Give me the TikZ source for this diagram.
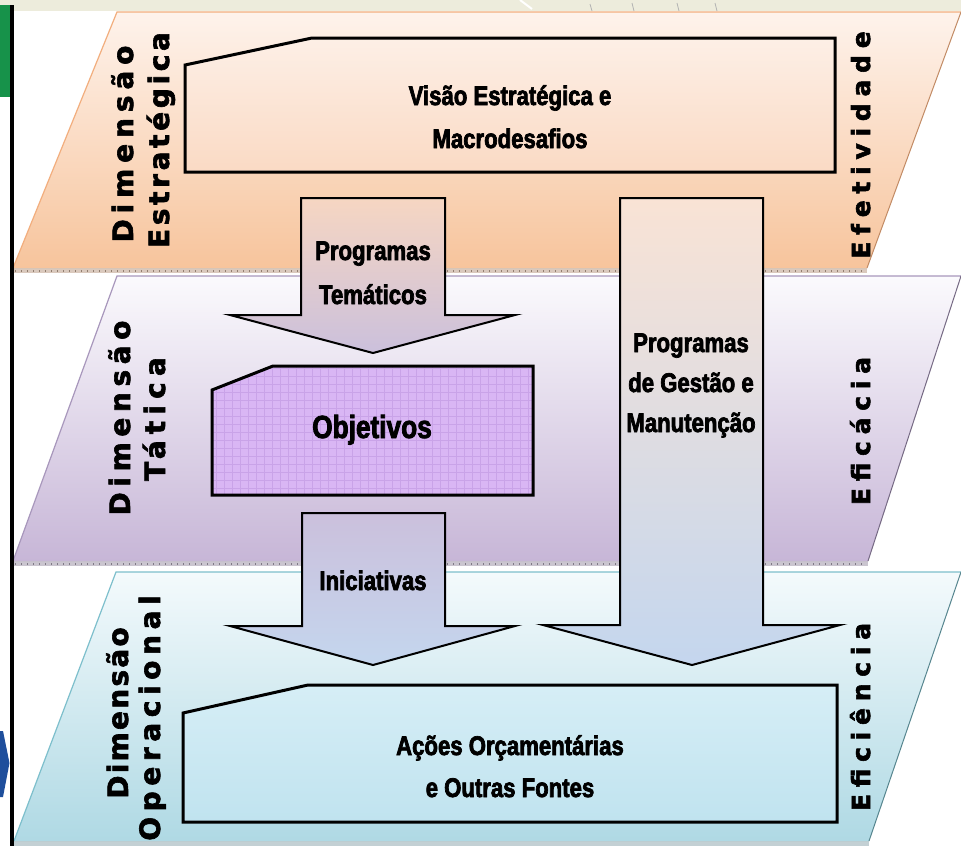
\documentclass[tikz,border=0pt]{standalone}
\usepackage{fontspec}
\newfontfamily\boxfont{Liberation Sans}[FakeStretch=0.82, BoldFont={Liberation Sans Bold}, BoldFeatures={FakeBold=2.6}]
\newfontfamily\labfont{DejaVu Sans}[BoldFont={DejaVu Sans Bold}, BoldFeatures={FakeBold=2.2}]
\definecolor{beige}{HTML}{EDECDC}
\definecolor{sidegreen}{HTML}{17924A}
\definecolor{chevblue}{HTML}{1F4F9C}
\definecolor{lAtop}{HTML}{FEF3EC}
\definecolor{lAbot}{HTML}{F7C49C}
\definecolor{lAedge}{HTML}{F2AE7E}
\definecolor{lBtop}{HTML}{FBFAFD}
\definecolor{lBbot}{HTML}{C7B6D7}
\definecolor{lBedge}{HTML}{A897BC}
\definecolor{lCtop}{HTML}{F4FAFC}
\definecolor{lCbot}{HTML}{AFD9E4}
\definecolor{lCedge}{HTML}{7DBFCC}
\definecolor{visA}{HTML}{FDEFE6}
\definecolor{visB}{HTML}{FADAC4}
\definecolor{objfill}{HTML}{D9B6F4}
\definecolor{objgrid}{HTML}{C9A3E8}
\definecolor{acoA}{HTML}{D6EEF6}
\definecolor{acoB}{HTML}{C0E3EF}
\definecolor{arPeach}{HTML}{F6D6C2}
\definecolor{arLav}{HTML}{CBC0DC}
\definecolor{arBlue}{HTML}{C4D6EE}
\definecolor{arPeachL}{HTML}{F9E3D5}
\begin{document}
\begin{tikzpicture}[x=1pt,y=-1pt,
  boxtxt/.style={font=\boxfont\bfseries\fontsize{27}{27}\selectfont, inner sep=0pt, anchor=base},
  labtxt/.style={font=\labfont\bfseries\fontsize{28}{28}\selectfont, inner sep=0pt, anchor=base, rotate=90},
  rlabtxt/.style={font=\labfont\bfseries\fontsize{25}{25}\selectfont, inner sep=0pt, anchor=base, rotate=90},
  chambox/.style={draw=black, line width=3pt, line join=miter},
  blockarrow/.style={draw=black, line width=2pt, line join=miter}]
\useasboundingbox (0,0) rectangle (961,846);
\fill[white] (0,0) rectangle (961,846);
% top strip
\fill[beige] (0,0) rectangle (961,11);
\draw[white, line width=2pt] (520,0) -- (532,9);
\draw[gray!60, line width=0.8pt] (590,4)--(592,11) (632,3)--(634,11) (677,3)--(679,11) (715,3)--(717,11);

% ---------- layer 1 (strategic)
\path[top color=lAtop, bottom color=lAbot] (117,12)--(961,12)--(867,268)--(13,268)--cycle;
\draw[lAedge, line width=1.2pt] (13,268)--(117,12)--(961,12);
\draw[lAedge!80!black, line width=1pt] (961,12)--(867,268);
\fill[lAbot!70!black, opacity=.45] (13,268) rectangle (867,273);
\draw[lAbot!40!black, line width=2pt, dash pattern=on 1pt off 5pt, opacity=.6] (15,270.5)--(865,270.5);

% ---------- layer 2 (tactical)
\path[top color=lBtop, bottom color=lBbot] (117,276)--(961,276)--(868,561)--(13,561)--cycle;
\draw[lBedge, line width=1.2pt] (13,561)--(117,276)--(961,276);
\draw[lBedge!70!black, line width=1pt] (961,276)--(868,561);
\fill[lBbot!70!black, opacity=.45] (13,561) rectangle (868,566);
\draw[lBbot!40!black, line width=2pt, dash pattern=on 1pt off 5pt, opacity=.6] (15,563.5)--(866,563.5);

% ---------- layer 3 (operational)
\path[top color=lCtop, bottom color=lCbot] (116,572)--(961,572)--(869,841)--(14,841)--cycle;
\draw[lCedge, line width=1.2pt] (14,841)--(116,572)--(961,572);
\draw[lCedge!70!black, line width=1pt] (961,572)--(869,841);
\fill[lCbot!70!black, opacity=.45] (14,841) rectangle (869,846);

% left frame pieces
\fill[sidegreen] (0,5) rectangle (9.5,97);
\fill[black] (9.5,5) rectangle (13.5,846);
\fill[chevblue] (0,731) -- (3,731) -- (9.5,763) -- (3,797) -- (0,797) -- cycle;

% ---------- boxes
\path[chambox, top color=visA, bottom color=visB] (185,65)--(312,38)--(835,38)--(835,172)--(185,172)--cycle;
\node[boxtxt] (vis1) at (510,105) {Visão Estratégica e};
\node[boxtxt] (vis2) at (510,148) {Macrodesafios};

\fill[objfill] (212,390)--(273,366)--(533,366)--(533,495)--(212,495)--cycle;
\begin{scope}
\clip (212,390)--(273,366)--(533,366)--(533,495)--(212,495)--cycle;
\draw[objgrid, line width=0.5pt, step=8pt] (200,360) grid (540,500);
\end{scope}
\draw[chambox] (212,390)--(273,366)--(533,366)--(533,495)--(212,495)--cycle;
\node[boxtxt, font=\boxfont\bfseries\fontsize{32}{32}\selectfont] (obj) at (372,438) {Objetivos};

\path[chambox, top color=acoA, bottom color=acoB] (183,713)--(308,685)--(837,685)--(837,822)--(183,822)--cycle;
\node[boxtxt] (aco1) at (510,755) {Ações Orçamentárias};
\node[boxtxt] (aco2) at (510,797) {e Outras Fontes};

% ---------- block arrows
\path[blockarrow, top color=arPeach, bottom color=arLav]
  (301,198)--(445,198)--(445,315)--(515,315)--(373,353)--(230,315)--(301,315)--cycle;
\node[boxtxt] (pt1) at (373,260) {Programas};
\node[boxtxt] (pt2) at (373,304) {Temáticos};

\path[blockarrow, top color=arLav, bottom color=arBlue]
  (302,513)--(445,513)--(445,626)--(515,626)--(373,665)--(230,626)--(302,626)--cycle;
\node[boxtxt] (ini) at (373,590) {Iniciativas};

\path[blockarrow, top color=arPeachL, middle color=arLav!70!white, bottom color=arBlue]
  (620,198)--(763,198)--(763,625)--(840,625)--(692,665)--(543,625)--(620,625)--cycle;
\node[boxtxt] (pg1) at (691,352) {Programas};
\node[boxtxt] (pg2) at (691,392) {de Gestão e};
\node[boxtxt] (pg3) at (691,432) {Manutenção};

% ---------- side labels
\node[labtxt] (dimA) at (133,144) {\addfontfeature{LetterSpace=21}Dimensão};
\node[labtxt] (estA) at (169,140) {\addfontfeature{LetterSpace=13}Estratégica};
\node[labtxt] (dimB) at (130,418) {\addfontfeature{LetterSpace=20}Dimensão};
\node[labtxt] (tatB) at (165,419) {\addfontfeature{LetterSpace=22}Tática};
\node[labtxt] (dimC) at (128,713) {\addfontfeature{LetterSpace=8}Dimensão};
\node[labtxt] (opeC) at (160,718) {\addfontfeature{LetterSpace=20}Operacional};

\node[rlabtxt] (efe) at (870,145) {\addfontfeature{LetterSpace=27}Efetividade};
\node[rlabtxt] (efc) at (870,431) {\addfontfeature{LetterSpace=27}Eficácia};
\node[rlabtxt] (efi) at (870,717) {\addfontfeature{LetterSpace=27}Eficiência};
\end{tikzpicture}
\end{document}
